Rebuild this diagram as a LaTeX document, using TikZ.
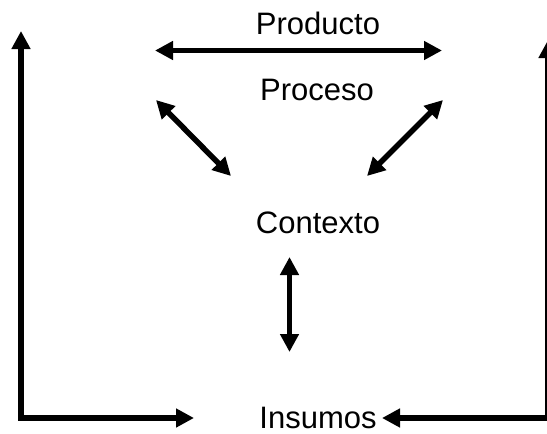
\documentclass[tikz,border=0pt]{standalone}
\usepackage{fontspec}
\setmainfont{Liberation Sans}
\usetikzlibrary{arrows.meta}
\begin{document}
\begin{tikzpicture}[x=1pt,y=-1pt,
  lbl/.style={anchor=base,inner sep=0pt,font=\fontsize{31}{37}\selectfont},
  arr/.style={line width=5.5pt,{Triangle[length=18pt,width=18pt]}-{Triangle[length=18pt,width=18pt]}}]
\useasboundingbox (0,0) rectangle (547,434);
\node[lbl] (prod) at (318,34) {Producto};
\node[lbl] (proc) at (317,100) {Proceso};
\node[lbl] (ctx) at (318,233) {Contexto};
\node[lbl] (ins) at (318,428) {Insumos};
\coordinate (pa) at (155,50.5);
\coordinate (pb) at (442,50.5);
\coordinate (la) at (156,100);
\coordinate (lb) at (231,176);
\coordinate (ra) at (443,100);
\coordinate (rb) at (367,176);
\coordinate (va) at (289.5,257);
\coordinate (vb) at (289.5,352);
\coordinate (Lin) at (194,418);
\coordinate (Lc) at (21,418);
\coordinate (Lt) at (21,31);
\coordinate (Rin) at (382,418);
\coordinate (Rc) at (548,418);
\coordinate (Rt) at (548,40);
\draw[arr] (pa) -- (pb);
\draw[arr] (la) -- (lb);
\draw[arr] (ra) -- (rb);
\draw[arr] (va) -- (vb);
\draw[arr,line join=miter] (Lin) -- (Lc) -- (Lt);
\draw[arr,line join=miter] (Rin) -- (Rc) -- (Rt);
\end{tikzpicture}
\end{document}
